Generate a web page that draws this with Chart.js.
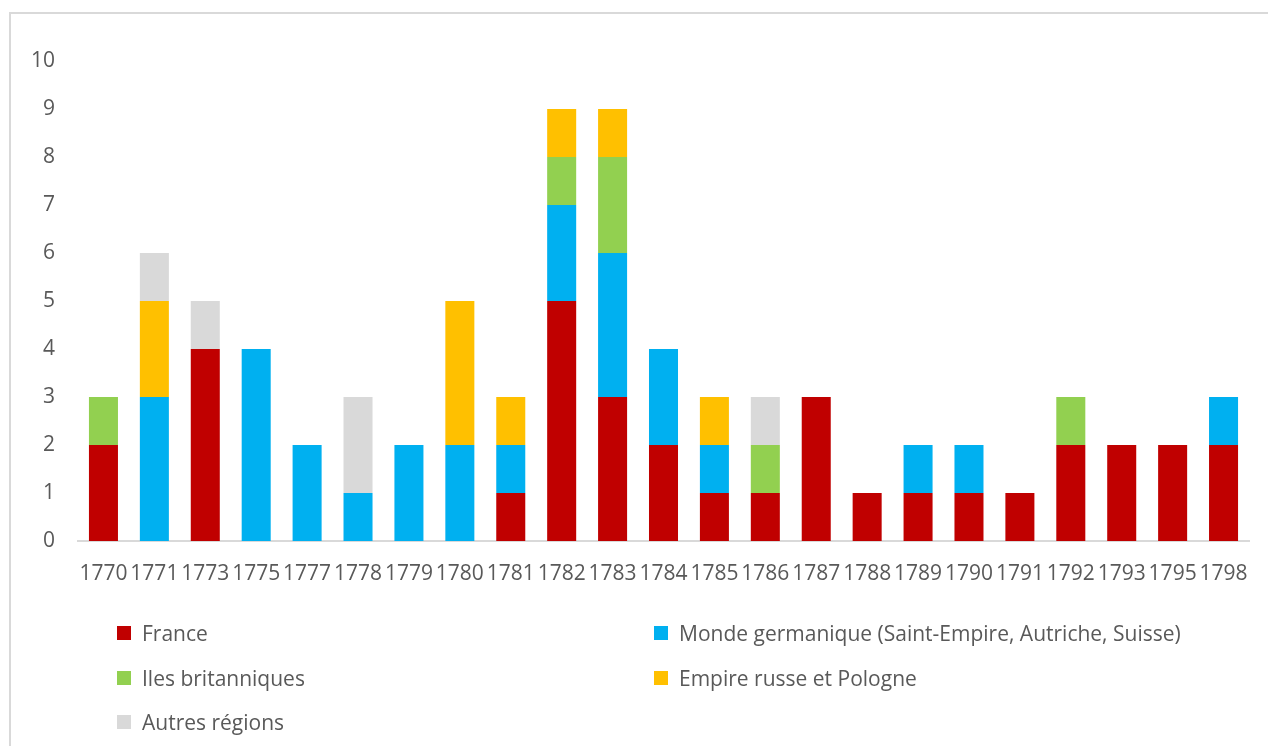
<!DOCTYPE html>
<html>
<head>
<meta charset="utf-8">
<script src="https://cdn.jsdelivr.net/npm/chart.js@4"></script>
<style>
  html, body { margin: 0; padding: 0; background: #fff; }
  #wrap { position: relative; width: 1268px; height: 746px; overflow: hidden; }
  #frame { position: absolute; left: 9px; top: 12px; width: 1300px; height: 800px;
           border: 2px solid #d9d9d9; pointer-events: none; }
  #chart { position: absolute; left: 0; top: 0; }
  #legend { position: absolute; left: 0; top: 0; width: 1268px; height: 746px;
            font-family: "Open Sans", sans-serif; font-size: 21px; color: #595959; }
  .item { position: absolute; display: flex; align-items: center; white-space: nowrap; }
  .box { width: 14px; height: 14px; margin-right: 11px; }
</style>
</head>
<body>
<div id="wrap">
  <canvas id="chart" width="1268" height="746"></canvas>
  <div id="legend"></div>
  <div id="frame"></div>
</div>
<script>
'use strict';

const years = ['1770', '1771', '1773', '1775', '1777', '1778', '1779', '1780', '1781', '1782', '1783', '1784',
    '1785', '1786', '1787', '1788', '1789', '1790', '1791', '1792', '1793', '1795', '1798'];

const france      = [2, 0, 4, 0, 0, 0, 0, 0, 1, 5, 3, 2, 1, 1, 3, 1, 1, 1, 1, 2, 2, 2, 2];
const germanique  = [0, 3, 0, 4, 2, 1, 2, 2, 1, 2, 3, 2, 1, 0, 0, 0, 1, 1, 0, 0, 0, 0, 1];
const britanniques = [1, 0, 0, 0, 0, 0, 0, 0, 0, 1, 2, 0, 0, 1, 0, 0, 0, 0, 0, 1, 0, 0, 0];
const russe       = [0, 2, 0, 0, 0, 0, 0, 3, 1, 1, 1, 0, 1, 0, 0, 0, 0, 0, 0, 0, 0, 0, 0];
const autres      = [0, 1, 1, 0, 0, 2, 0, 0, 0, 0, 0, 0, 0, 1, 0, 0, 0, 0, 0, 0, 0, 0, 0];

const yTicks = [0, 1, 2, 3, 4, 5, 6, 7, 8, 9, 10];

const textColor = '#595959';
const font = { family: '"Open Sans", sans-serif', size: 21 };

function bar(label, data, color) {
    return {
        label: label,
        data: data,
        backgroundColor: color,
        borderWidth: 0,
        barPercentage: 0.57,
        categoryPercentage: 1.0,
    };
}

const datasets = [
    bar('France', france, '#C00000'),
    bar('Monde germanique (Saint-Empire, Autriche, Suisse)', germanique, '#00B0F0'),
    bar('Iles britanniques', britanniques, '#92D050'),
    bar('Empire russe et Pologne', russe, '#FFC000'),
    bar('Autres régions', autres, '#D9D9D9'),
];

let regionsChart = new Chart(
    document.querySelector('#chart'), {
        type: 'bar',
        data: {
            labels: years,
            datasets: datasets,
        },
        options: {
            responsive: false,
            animation: false,
            layout: { padding: { top: 61, right: 19, left: 0, bottom: 0 } },
            plugins: {
                legend: { display: false },
                tooltip: { enabled: false },
            },
            scales: {
                x: {
                    stacked: true,
                    grid: { display: false, drawTicks: false },
                    border: { color: '#d9d9d9', width: 2 },
                    ticks: { color: textColor, font: font, padding: 20, maxRotation: 0, autoSkip: false },
                    afterFit: (scale) => { scale.height = 205; },
                },
                y: {
                    stacked: true,
                    min: 0,
                    max: 10,
                    grid: { display: false, drawTicks: false },
                    border: { display: false },
                    afterBuildTicks: (scale) => { scale.ticks = yTicks.map((v) => ({ value: v })); },
                    ticks: { color: textColor, font: font, padding: 23 },
                    afterFit: (scale) => { scale.width = 78; },
                },
            },
        },
    }
);

// legend in two columns, built from the chart datasets
const legendPos = [
    [117, 633], [654, 633],
    [117, 678], [654, 678],
    [117, 722],
];
const legendBox = document.querySelector('#legend');
regionsChart.data.datasets.forEach((ds, i) => {
    const item = document.createElement('div');
    item.className = 'item';
    item.style.left = legendPos[i][0] + 'px';
    item.style.top = (legendPos[i][1] - 15) + 'px';
    item.style.height = '30px';
    const box = document.createElement('span');
    box.className = 'box';
    box.style.background = ds.backgroundColor;
    const txt = document.createElement('span');
    txt.textContent = ds.label;
    item.appendChild(box);
    item.appendChild(txt);
    legendBox.appendChild(item);
});
</script>
</body>
</html>
